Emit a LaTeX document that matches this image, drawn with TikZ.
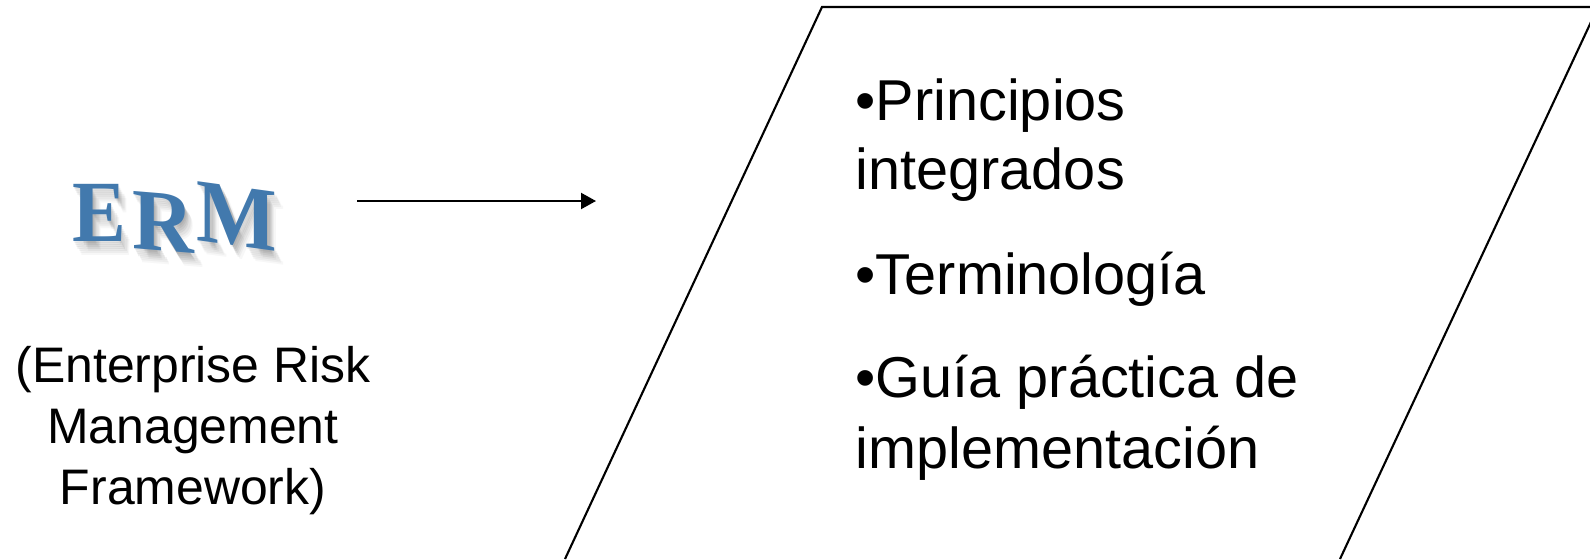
\documentclass[tikz,border=0pt]{standalone}
\usepackage{fontspec}
\setmainfont{Liberation Sans}
\newfontfamily\ermfont{Liberation Serif}
\usetikzlibrary{arrows.meta}
\definecolor{ermblue}{HTML}{4279AD}

\begin{document}
\begin{tikzpicture}
    % Define text and line styles
    \tikzstyle{edge}=[line width=0.6pt]
    \tikzstyle{item}=[anchor=base west, inner sep=0pt, font=\fontsize{16.4}{19}\selectfont, align=left]
    \tikzstyle{caption}=[anchor=base, inner sep=0pt, font=\fontsize{14.2}{17}\selectfont]
    \tikzstyle{letter}=[inner sep=0pt, font=\ermfont\bfseries\fontsize{27}{27}\selectfont, transform shape]

    % Fix the page
    \useasboundingbox (0,0) rectangle (15.90,5.59);
    \clip (0,0) rectangle (15.90,5.59);

    % Place ERM letters, the soft shadow first
    \foreach \name/\glyph/\px/\py/\slant/\sx/\sy in {e/E/0.99/3.46/0/0.85/0.92, r/R/1.63/3.37/-0.08/0.90/0.92, m/M/2.37/3.42/-0.13/0.90/0.95} {
        \foreach \off/\fade in {0.02/0.06, 0.04/0.06, 0.06/0.06, 0.08/0.06, 0.10/0.05, 0.12/0.04, 0.14/0.03} {
            \node[letter, text=black, opacity=\fade, xscale=\sx, yscale=\sy, yslant=\slant] (shadow\name\off) at (\px+0.6*\off,\py-\off) {\glyph};
        }
        \node[letter, text=ermblue, xscale=\sx, yscale=\sy, yslant=\slant] (\name) at (\px,\py) {\glyph};
    }

    % Place ERM caption
    \node[caption] (line1) at (1.93,1.77) {(Enterprise Risk};
    \node[caption] (line2) at (1.93,1.16) {Management};
    \node[caption] (line3) at (1.93,0.55) {Framework)};

    % Connect ERM to the box
    \coordinate (from) at (3.57,3.58);
    \coordinate (to) at (5.96,3.58);
    \draw[edge, -{Triangle[length=1.5mm, width=1.6mm]}] (from) -- (to);

    % Draw the box
    \coordinate (bl) at (5.65,0);
    \coordinate (tl) at (8.22,5.52);
    \coordinate (tr) at (15.98,5.52);
    \coordinate (br) at (13.40,0);
    \draw[edge] (bl) -- (tl) -- (tr) -- (br);

    % Place box items
    \node[item] (item1a) at (8.55,4.39) {•Principios};
    \node[item] (item1b) at (8.55,3.70) {integrados};
    \node[item] (item2) at (8.55,2.65) {•Terminología};
    \node[item] (item3a) at (8.55,1.62) {•Guía práctica de};
    \node[item] (item3b) at (8.55,0.91) {implementación};
\end{tikzpicture}
\end{document}
